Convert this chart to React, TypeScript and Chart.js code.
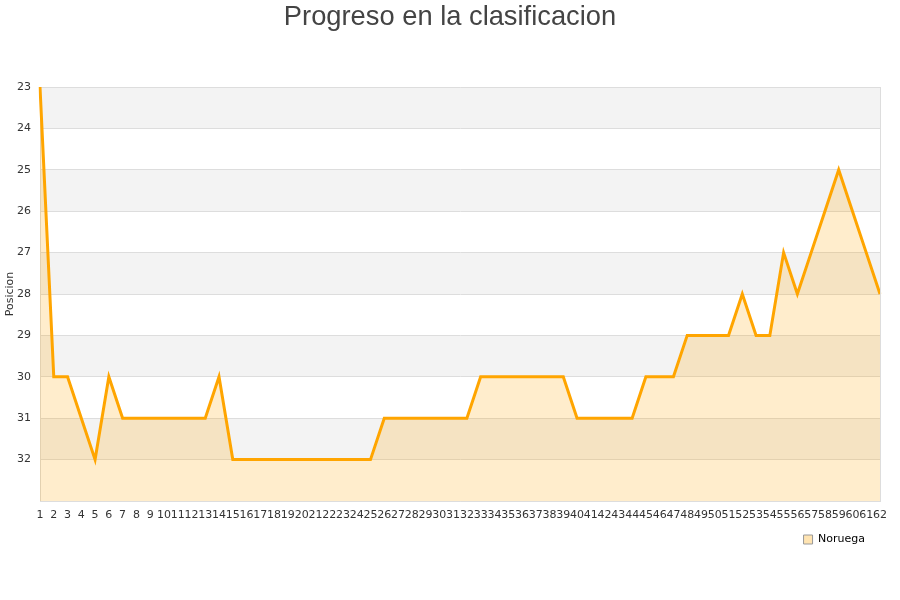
import React, { useEffect, useRef } from "react";
import { Chart, registerables } from "chart.js";

Chart.register(...registerables);

const jornadas: string[] = Array.from({ length: 62 }, (_, i) => String(i + 1));
const posiciones: number[] = [
  23, 30, 30, 31, 32, 30, 31, 31, 31, 31, 31, 31, 31, 30, 32, 32, 32, 32, 32, 32,
  32, 32, 32, 32, 32, 31, 31, 31, 31, 31, 31, 31, 30, 30, 30, 30, 30, 30, 30, 31,
  31, 31, 31, 31, 30, 30, 30, 29, 29, 29, 29, 28, 29, 29, 27, 28, 27, 26, 25, 26,
  27, 28,
];
const equipo = "Noruega";
const titulo = "Progreso en la clasificacion";
const ejeY = "Posicion";
const yMin = 23;
const yMax = 33;

const bandsPlugin = {
  id: "bands",
  beforeDraw(chart: any) {
    const { ctx, chartArea, scales } = chart;
    const y = scales.y;
    ctx.save();
    for (let v = yMin; v < yMax; v += 2) {
      const t = y.getPixelForValue(v);
      const b = y.getPixelForValue(v + 1);
      ctx.fillStyle = "#f3f3f3";
      ctx.fillRect(chartArea.left, t, chartArea.right - chartArea.left, b - t);
    }
    ctx.restore();
  },
  afterDraw(chart: any) {
    const { ctx, chartArea, width } = chart;
    ctx.save();
    ctx.strokeStyle = "#dddddd";
    ctx.lineWidth = 1;
    ctx.beginPath();
    ctx.moveTo(Math.round(chartArea.right) + 0.5, chartArea.top);
    ctx.lineTo(Math.round(chartArea.right) + 0.5, chartArea.bottom);
    ctx.stroke();
    ctx.fillStyle = "#444";
    ctx.font = "27.3px 'Liberation Sans', Arial, sans-serif";
    ctx.textAlign = "center";
    ctx.textBaseline = "middle";
    ctx.fillText(titulo, width / 2, 17);
    ctx.restore();
  },
};

export default function App() {
  const ref = useRef<HTMLCanvasElement | null>(null);
  useEffect(() => {
    document.body.style.margin = "0";
    const chart = new Chart(ref.current as HTMLCanvasElement, {
      type: "line",
      data: {
        labels: jornadas,
        datasets: [
          {
            label: equipo,
            data: posiciones,
            borderColor: "#ffa500",
            backgroundColor: "rgba(255,165,0,0.2)",
            borderWidth: 3,
            pointRadius: 0,
            pointHoverRadius: 0,
            tension: 0,
            fill: "start",
          },
        ],
      },
      options: {
        animation: false,
        responsive: false,
        maintainAspectRatio: false,
        layout: { padding: { left: 0, right: 20, top: 87, bottom: 45 } },
        plugins: {
          title: { display: false },
          legend: {
            position: "bottom",
            align: "end",
            labels: {
              boxWidth: 9,
              boxHeight: 9,
              padding: 15,
              color: "#222",
              font: { family: "'DejaVu Sans', sans-serif", size: 11 },
              generateLabels: () => [
                {
                  text: equipo,
                  fillStyle: "rgba(255,225,170,0.9)",
                  strokeStyle: "#999",
                  lineWidth: 1,
                  hidden: false,
                  datasetIndex: 0,
                },
              ],
            },
          },
          tooltip: { enabled: false },
        },
        scales: {
          x: {
            grid: { display: false, drawTicks: false },
            border: { color: "#ddd" },
            ticks: {
              autoSkip: false,
              maxRotation: 0,
              minRotation: 0,
              padding: 8,
              color: "#333",
              font: { family: "'DejaVu Sans', sans-serif", size: 11 },
            },
            afterFit(scale: any) {
              scale.height = 18;
            },
          },
          y: {
            reverse: true,
            min: yMin,
            max: yMax,
            grid: { color: "#dddddd", drawTicks: false },
            border: { color: "#ddd" },
            ticks: {
              stepSize: 1,
              padding: 9,
              color: "#333",
              font: { family: "'DejaVu Sans', sans-serif", size: 11 },
              callback: (v: any) => (Number(v) === yMax ? "" : String(v)),
            },
            title: {
              display: true,
              text: ejeY,
              color: "#333",
              font: { family: "'DejaVu Sans', sans-serif", size: 11 },
              padding: { top: 4, bottom: 0 },
            },
            afterFit(scale: any) {
              scale.width = 40;
            },
          },
        },
      },
      plugins: [bandsPlugin],
    });
    return () => chart.destroy();
  }, []);
  return (
    <div style={{ width: 900, height: 600 }}>
      <canvas ref={ref} width={900} height={600} style={{ width: 900, height: 600 }} />
    </div>
  );
}
